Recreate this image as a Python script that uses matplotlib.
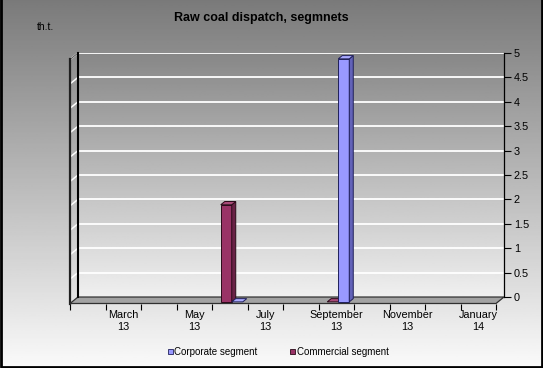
import numpy as np
import matplotlib
matplotlib.use('Agg')
import matplotlib.pyplot as plt
from matplotlib.patches import Polygon, Patch
from matplotlib.ticker import FuncFormatter

plt.rcParams['font.family'] = ['Liberation Sans', 'DejaVu Sans']

# data
months = ['February\n13', 'March\n13', 'April\n13', 'May\n13', 'June\n13', 'July\n13',
          'August\n13', 'September\n13', 'October\n13', 'November\n13', 'December\n13', 'January\n14']
shown = [False, True, False, True, False, True, False, True, False, True, False, True]
corporate = [np.nan, np.nan, np.nan, np.nan, 0.0, np.nan, np.nan, 4.98, np.nan, np.nan, np.nan, np.nan]
commercial = [np.nan, np.nan, np.nan, np.nan, 1.99, np.nan, np.nan, 0.0, np.nan, np.nan, np.nan, np.nan]
ymax = 5

W, H = 543, 368
fig = plt.figure(figsize=(W / 100, H / 100), dpi=100)


def px(x0, y0, x1, y1):
    return [x0 / W, 1 - y1 / H, (x1 - x0) / W, (y1 - y0) / H]


# background gradient + border
bg = fig.add_axes([0, 0, 1, 1], zorder=-5)
grad = np.linspace(0.48, 0.98, 200).reshape(-1, 1)
bg.imshow(grad, extent=[0, 1, 0, 1], aspect='auto', cmap='gray', vmin=0, vmax=1, origin='upper')
bg.set_xlim(0, 1)
bg.set_ylim(0, 1)
bg.axis('off')
bg.plot([0.001, 0.001, 0.999, 0.999], [1, 0.002, 0.002, 1], color='black', lw=2)

# back wall
x0, y0, x1, y1 = 78, 53, 504, 297
ax = fig.add_axes(px(x0, y0, x1, y1), zorder=1)
n = len(months)
ax.set_xlim(-0.5, n - 0.5)
ax.set_ylim(0, ymax)
ax.patch.set_visible(False)
wall = np.linspace(0.53, 0.94, 200).reshape(-1, 1)
ax.imshow(wall, extent=[-0.5, n - 0.5, 0, ymax], aspect='auto', cmap='gray',
          vmin=0, vmax=1, origin='upper', zorder=0)
ax.set_yticks(np.arange(0, ymax + 0.01, 0.5))
ax.yaxis.tick_right()
ax.yaxis.set_major_formatter(FuncFormatter(lambda v, p: '%g' % v))
ax.tick_params(axis='y', length=5, width=0.8, pad=2, labelsize=7.8, colors='black')
ax.set_xticks([])
ax.set_axisbelow(True)
ax.grid(axis='y', color='white', lw=1.3)
for s in ['top', 'bottom']:
    ax.spines[s].set_visible(False)
ax.spines['left'].set_linewidth(1.5)
ax.spines['right'].set_linewidth(0.9)

# depth offset (pixels) converted to data units
pxx = (x1 - x0) / n
pxy = (y1 - y0) / ymax
ddx = 8 / pxx
ddy = 6.5 / pxy
L, R = -0.5, n - 0.5

# side wall grid lines and edges
for v in np.arange(0.5, ymax + 0.01, 0.5):
    ax.plot([L, L - ddx], [v, v - ddy], color='white', lw=1.1, clip_on=False, zorder=2)
ax.plot([L, L - ddx], [ymax, ymax - ddy], color='#606060', lw=0.8, clip_on=False, zorder=2)
ax.plot([L - ddx, L - ddx], [-ddy, ymax - ddy], color='#202020', lw=1.6, clip_on=False, zorder=2)

# floor
floor = Polygon([(L, 0), (R, 0), (R - ddx, -ddy), (L - ddx, -ddy)], closed=True,
                facecolor='#a2a2a2', edgecolor='#303030', lw=0.9, clip_on=False, zorder=2)
ax.add_patch(floor)

# bars
bw = 0.31


def box(xl, v, face, side, top, edge):
    fx0 = xl - 0.75 * ddx
    fx1 = fx0 + bw
    fy0 = -0.75 * ddy
    fy1 = v + fy0
    bx, by = 0.5 * ddx, 0.5 * ddy
    kw = dict(closed=True, edgecolor=edge, lw=0.7, clip_on=False, zorder=3)
    if v > 0:
        ax.add_patch(Polygon([(fx0, fy0), (fx1, fy0), (fx1, fy1), (fx0, fy1)], facecolor=face, **kw))
        ax.add_patch(Polygon([(fx1, fy0), (fx1 + bx, fy0 + by), (fx1 + bx, fy1 + by), (fx1, fy1)],
                             facecolor=side, **kw))
    ax.add_patch(Polygon([(fx0, fy1), (fx1, fy1), (fx1 + bx, fy1 + by), (fx0 + bx, fy1 + by)],
                         facecolor=top, **kw))


for k in range(n):
    if not np.isnan(commercial[k]):
        box(k - bw, commercial[k], '#993366', '#6a2246', '#a84a78', '#2a0a18')
    if not np.isnan(corporate[k]):
        box(k, corporate[k], '#9999ff', '#6262b8', '#aaaaff', '#20205a')

# front plane axis with category ticks/labels
fa = fig.add_axes(px(x0 - 8, y0 + 6.5, x1 - 8, y1 + 6.5), zorder=0.5)
fa.set_xlim(-0.5, n - 0.5)
fa.set_ylim(0, ymax)
fa.patch.set_visible(False)
for s in fa.spines.values():
    s.set_visible(False)
fa.set_yticks([])
fa.set_xticks(range(n))
fa.set_xticklabels([m if s else '' for m, s in zip(months, shown)], fontsize=7.8, linespacing=1.15)
fa.set_xticks(np.arange(-0.5, n, 1), minor=True)
fa.tick_params(axis='x', which='major', length=0, pad=5)
fa.tick_params(axis='x', which='minor', length=4, width=0.8, color='black')

# texts
fig.text(261 / W, 1 - 18 / H, 'Raw coal dispatch, segmnets', ha='center', va='center',
         fontsize=9, fontweight='bold')
fig.text(37 / W, 1 - 27 / H, 'th.t.', ha='left', va='center', fontsize=7.5)

handles = [Patch(facecolor='#9999ff', edgecolor='#20205a', lw=0.6),
           Patch(facecolor='#993366', edgecolor='#2a0a18', lw=0.6)]
fig.legend(handles, ['Corporate segment', 'Commercial segment'], loc='center',
           bbox_to_anchor=(278 / W, 1 - 352 / H), ncol=2, frameon=False, fontsize=7,
           handlelength=0.55, handleheight=0.55, handletextpad=0.15, columnspacing=3.3)

fig.savefig('out.png', dpi=100)
